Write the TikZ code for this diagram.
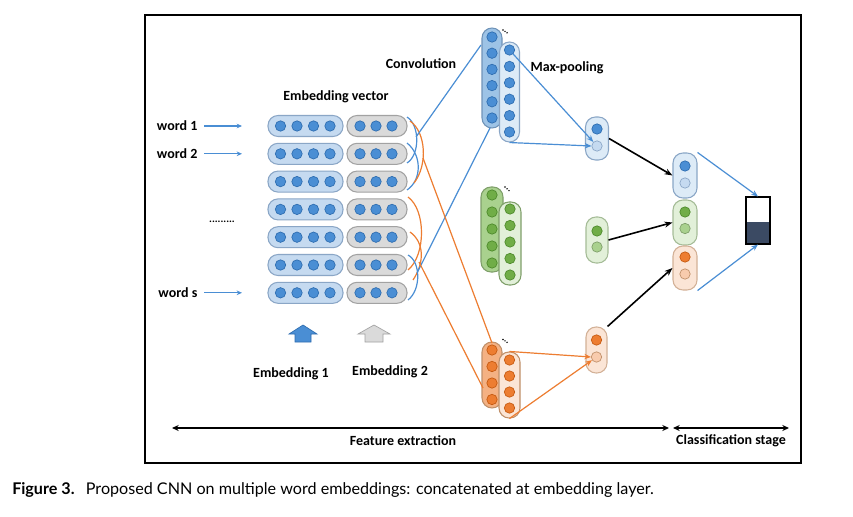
\documentclass[tikz,border=0pt]{standalone}
\usepackage{fontspec}
\setmainfont{Carlito}
\newfontfamily\capfont{Lato}
\usetikzlibrary{arrows.meta}
\definecolor{bdot}{HTML}{4A8ED4}
\definecolor{bdotd}{HTML}{2E6DB0}
\definecolor{bcap}{HTML}{C5DAF0}
\definecolor{bcapd}{HTML}{8AA6C6}
\definecolor{gcap}{HTML}{DADADA}
\definecolor{gcapd}{HTML}{A2A2A2}
\definecolor{bback}{HTML}{9DC3E6}
\definecolor{bbackd}{HTML}{6F93B8}
\definecolor{bfront}{HTML}{DDEBF7}
\definecolor{gback}{HTML}{A9D18E}
\definecolor{gbackd}{HTML}{7F9F6A}
\definecolor{gfront}{HTML}{E2F0D9}
\definecolor{gdot}{HTML}{70AD47}
\definecolor{gdotd}{HTML}{4E8A2C}
\definecolor{oback}{HTML}{F4B183}
\definecolor{obackd}{HTML}{C0906A}
\definecolor{ofront}{HTML}{FBE5D6}
\definecolor{odot}{HTML}{ED7D31}
\definecolor{odotd}{HTML}{C55A11}
\definecolor{olight}{HTML}{F8CBAD}
\definecolor{bline}{HTML}{4A8ED4}
\definecolor{oline}{HTML}{ED7D31}
\definecolor{outd}{HTML}{3B4A63}
\begin{document}
\begin{tikzpicture}[x=0.75pt,y=-0.75pt,
  font=\bfseries\fontsize{10.5}{12}\selectfont,
  lbl/.style={inner sep=1pt},
  hcapsule/.style={draw, rounded corners=7.5pt, minimum height=15.75pt, inner sep=0pt, line width=0.8pt},
  bcapsule/.style={hcapsule, fill=bcap, draw=bcapd, minimum width=56.25pt},
  gcapsule/.style={hcapsule, fill=gcap, draw=gcapd, minimum width=45pt},
  vcapsule/.style={draw, rounded corners=7.5pt, inner sep=0pt, line width=0.8pt},
  dotst/.style={circle, minimum size=7.8pt, inner sep=0pt, line width=0.5pt},
  bdotst/.style={dotst, fill=bdot, draw=bdotd},
  bldot/.style={dotst, fill=bcap, draw=bcapd},
  gdotst/.style={dotst, fill=gdot, draw=gdotd},
  gldot/.style={dotst, fill=gback, draw=gbackd},
  odotst/.style={dotst, fill=odot, draw=odotd},
  oldot/.style={dotst, fill=olight, draw=obackd},
  bconn/.style={draw=bline, line width=0.9pt},
  oconn/.style={draw=oline, line width=0.9pt},
  barrow/.style={bconn, -{Stealth[length=5pt,width=4pt]}},
  oarrow/.style={oconn, -{Stealth[length=5pt,width=4pt]}},
  karrow/.style={draw=black, line width=1.2pt, -{Stealth[length=6pt,width=4.5pt]}},
  warrow/.style={draw=bline, line width=0.9pt, -{Stealth[length=4pt,width=3.5pt]}},
  spanarrow/.style={draw=black, line width=1.2pt, {Stealth[length=5pt,width=4.5pt]}-{Stealth[length=5pt,width=4.5pt]}}
]
\useasboundingbox (0,0) rectangle (853,517);
\fill[white] (0,0) rectangle (853,517);
\draw[line width=1.2pt] (145,15) rectangle (801,463);

% words
\foreach \nm/\lab/\r in {1/word 1/126, 2/word 2/153.8, 3/word s/292.8} {
  \node[lbl, anchor=east] (w\nm) at (199,\r) {\lab};
  \coordinate (wt\nm) at (242,\r);
  \draw[warrow] ([xshift=4pt]w\nm.east) -- (wt\nm);
}
\node[lbl, font=\bfseries\fontsize{8}{9}\selectfont] (wdots) at (222,222) {.........};

% embedding rows
\foreach \r [count=\i] in {126,153.8,181.6,209.4,237.2,265,292.8} {
  \node[bcapsule] (eb\i) at (305.5,\r) {};
  \node[gcapsule] (eg\i) at (377,\r) {};
  \foreach \x [count=\j] in {280.5,297,313.5,330} \node[bdotst] (eb\i d\j) at (\x,\r) {};
  \foreach \x [count=\j] in {360,376,392} \node[bdotst] (eg\i d\j) at (\x,\r) {};
}
\node[lbl] (embv) at (336,97) {Embedding vector};

% filter arcs, top group
\draw[bconn] (407,117) .. controls (420,125) and (420,155) .. (407,163);
\draw[bconn] (407,143) .. controls (422,155) and (422,180) .. (407,190);
\draw[oconn] (410,121) .. controls (426,132) and (428,165) .. (414,183);
% filter arcs, bottom group
\draw[oconn] (408,197) .. controls (426,210) and (426,255) .. (408,270);
\draw[oconn] (410,232) .. controls (424,242) and (425,262) .. (413,280);
\draw[bconn] (408,255) .. controls (421,262) and (421,290) .. (408,300);
\coordinate (fa) at (416,137);
\coordinate (fb) at (423,158);
\coordinate (fc) at (417,273);
\coordinate (fd) at (419,262);

% convolution maps
\node[vcapsule, fill=bback, draw=bbackd, minimum width=15pt, minimum height=75pt] (cb1) at (492,78) {};
\foreach \y [count=\j] in {37,53.2,69.4,85.6,101.8,118} \node[bdotst] (cb1d\j) at (492,\y) {};
\node[vcapsule, fill=bfront, draw=bcapd, minimum width=15pt, minimum height=75pt] (cb2) at (509.5,92) {};
\foreach \y [count=\j] in {50,66.4,82.8,99.2,115.6,132} \node[bdotst] (cb2d\j) at (509.5,\y) {};
\foreach \d in {0,2,4} \fill (503+\d,30+\d*0.7) circle[radius=0.6pt];

\node[vcapsule, fill=gback, draw=gbackd, minimum width=16.5pt, minimum height=63.75pt] (cg1) at (492,229.5) {};
\foreach \y [count=\j] in {195,212,229,246,263} \node[gdotst] (cg1d\j) at (492,\y) {};
\node[vcapsule, fill=gfront, draw=gbackd, minimum width=16.5pt, minimum height=62.25pt] (cg2) at (510,243.5) {};
\foreach \y [count=\j] in {209,225.5,242,258.5,275} \node[gdotst] (cg2d\j) at (510,\y) {};
\foreach \d in {0,2,4} \fill (505+\d,187+\d*0.9) circle[radius=0.6pt];

\node[vcapsule, fill=oback, draw=obackd, minimum width=15pt, minimum height=49.5pt] (co1) at (492,375) {};
\foreach \y [count=\j] in {350,366.5,383,399.5} \node[odotst] (co1d\j) at (492,\y) {};
\node[vcapsule, fill=ofront, draw=obackd, minimum width=15.75pt, minimum height=49.5pt] (co2) at (509.5,385) {};
\foreach \y [count=\j] in {360,376,392,408} \node[odotst] (co2d\j) at (509.5,\y) {};
\foreach \d in {0,2,4} \fill (503+\d,339.5+\d*0.7) circle[radius=0.6pt];

\coordinate (cbin1) at (481,45);
\coordinate (cbin2) at (490,128);
\coordinate (coin1) at (492,343);
\coordinate (coin2) at (483,388);

% filter to map lines
\draw[bconn] (fa) -- (cbin1);
\draw[bconn] (fc) -- (cbin2);
\draw[oconn] (fb) -- (coin1);
\draw[oconn] (fd) -- (coin2);

\node[lbl] (convl) at (421,64) {Convolution};
\node[lbl] (maxl) at (567,68) {Max-pooling};

% pooling
\node[vcapsule, fill=bfront, draw=bcapd, minimum width=17.25pt, minimum height=32.25pt] (pb) at (597,138.5) {};
\node[bdotst] (pbd) at (597,129) {};
\node[bldot] (pbl) at (597,146) {};
\node[vcapsule, fill=gfront, draw=gbackd!70, minimum width=16.5pt, minimum height=34.5pt] (pg) at (597,240) {};
\node[gdotst] (pgd) at (597,231) {};
\node[gldot] (pgl) at (597,247) {};
\node[vcapsule, fill=ofront, draw=obackd!70, minimum width=15.75pt, minimum height=34.5pt] (po) at (596.5,350) {};
\node[odotst] (pod) at (596.5,340) {};
\node[oldot] (pol) at (596.5,357) {};

\draw[barrow] (cb2d1) -- (pbl);
\draw[barrow] (cb2.south) -- (pbl.west);
\draw[oarrow] (co2.north) -- (pol.west);
\draw[oarrow] (co2.south) -- (pol);

% concatenation
\node[vcapsule, fill=bfront, draw=bcapd, minimum width=18pt, minimum height=33.75pt] (kb) at (685,175.5) {};
\node[bdotst] (kbd) at (685,166) {};
\node[bldot] (kbl) at (685,183) {};
\node[vcapsule, fill=gfront, draw=gbackd!70, minimum width=18pt, minimum height=33.75pt] (kg) at (685,222.5) {};
\node[gdotst] (kgd) at (685,212) {};
\node[gldot] (kgl) at (685,228.5) {};
\node[vcapsule, fill=ofront, draw=obackd!70, minimum width=18pt, minimum height=33pt] (ko) at (685,268) {};
\node[odotst] (kod) at (685,257) {};
\node[oldot] (kol) at (685,274) {};

\draw[karrow] (pb.east) -- (kb.west);
\draw[karrow] (pg.east) -- (kg.west);
\draw[karrow] (po.north east) -- (ko.west);

% output
\node[draw=black, line width=0.8pt, fill=white, minimum width=18pt, minimum height=35.25pt, inner sep=0pt] (out) at (758,220.5) {};
\fill[outd] (746,222) rectangle (770,244);
\draw[line width=0.8pt] (746,197) rectangle (770,244);
\draw[barrow] (kb.north east) -- (out.north);
\draw[barrow] (ko.south east) -- (out.south);

% embedding arrows
\draw[fill=bdot, draw=bdotd, line width=0.5pt] (289,334) -- (303,325) -- (317,334) -- (311,334) -- (311,342) -- (295,342) -- (295,334) -- cycle;
\draw[fill=gcap, draw=gcapd, line width=0.5pt] (358,334) -- (374,325) -- (390,334) -- (383,334) -- (383,342) -- (365,342) -- (365,334) -- cycle;
\node[lbl] (e1) at (291,374) {Embedding 1};
\node[lbl] (e2) at (390,372) {Embedding 2};

% stages
\coordinate (fe1) at (172,428);
\coordinate (fe2) at (669,428);
\coordinate (cs1) at (673,428);
\coordinate (cs2) at (789,428);
\draw[spanarrow] (fe1) -- (fe2);
\draw[spanarrow] (cs1) -- (cs2);
\node[lbl] (fel) at (403,441) {Feature extraction};
\node[lbl] (csl) at (731,441) {Classification stage};

% caption
\node[anchor=west, inner sep=0pt, font=\capfont\fontsize{12.1}{14}\selectfont] (capt) at (12,490) {\textbf{Figure 3.}\hspace{0.7em}Proposed CNN on multiple word embeddings: concatenated at embedding layer.};
\end{tikzpicture}
\end{document}
